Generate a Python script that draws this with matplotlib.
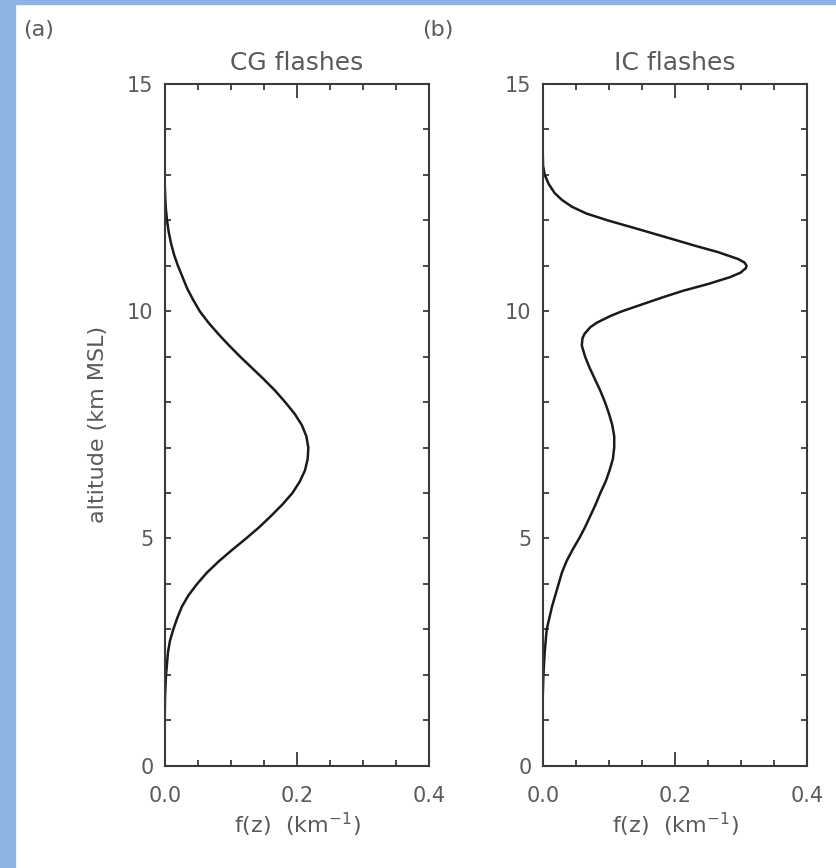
import matplotlib
matplotlib.use('Agg')
import matplotlib.pyplot as plt
from matplotlib.patches import Rectangle

# values
cg_alt=[0,1,1.5,2,2.5,2.75,3,3.25,3.5,3.75,4,4.25,4.5,4.75,5,5.25,5.5,5.75,6,6.25,6.5,6.75,7,7.25,7.5,7.75,8,8.25,8.5,8.75,9,9.25,9.5,9.75,10,10.25,10.5,10.75,11,11.25,11.5,11.75,12,12.25,12.5,12.75,13,15]
cg_f=[0,0,0.0005,0.002,0.005,0.008,0.013,0.019,0.026,0.036,0.049,0.064,0.082,0.102,0.123,0.143,0.161,0.178,0.193,0.204,0.212,0.216,0.217,0.214,0.207,0.196,0.182,0.167,0.150,0.132,0.114,0.097,0.081,0.066,0.053,0.043,0.034,0.027,0.020,0.014,0.0095,0.006,0.0035,0.0018,0.0008,0.0002,0,0]

ic_alt=[0,1.5,2,2.5,3,3.25,3.5,3.75,4,4.25,4.5,4.75,5,5.25,5.5,5.75,6,6.25,6.5,6.75,7,7.25,7.5,7.75,8,8.25,8.5,8.75,9,9.25,9.4,9.5,9.65,9.75,9.9,10,10.15,10.3,10.45,10.6,10.75,10.85,10.95,11,11.07,11.15,11.3,11.45,11.6,11.8,12,12.15,12.3,12.45,12.6,12.8,13,13.2,13.5,15]
ic_f=[0,0,0.001,0.003,0.006,0.010,0.014,0.019,0.024,0.029,0.036,0.045,0.055,0.064,0.072,0.080,0.087,0.095,0.101,0.106,0.108,0.108,0.105,0.100,0.094,0.087,0.079,0.071,0.064,0.059,0.060,0.063,0.072,0.082,0.103,0.120,0.150,0.180,0.212,0.250,0.283,0.299,0.307,0.308,0.305,0.295,0.265,0.228,0.193,0.146,0.098,0.066,0.044,0.029,0.018,0.009,0.003,0.0005,0,0]

panels=[('(a)','CG flashes',cg_alt,cg_f),('(b)','IC flashes',ic_alt,ic_f)]
xticks=[0.0,0.2,0.4]
yticks=[0,5,10,15]

txt='#5a5a5a'
spine='#3a3a3a'
plt.rcParams['font.family']='DejaVu Sans'

fig=plt.figure(figsize=(8.36,8.68),dpi=100)
fig.patches.append(Rectangle((0,0),15/836,1,transform=fig.transFigure,color='#8db3e2',zorder=-5))
fig.patches.append(Rectangle((0,1-4/868),1,4/868,transform=fig.transFigure,color='#8db3e2',zorder=-5))

lefts=[0.197,0.6492]
tagx=[0.028,0.505]
for i,(tag,title,alt,f) in enumerate(panels):
    ax=fig.add_axes([lefts[i],0.1179,0.3167,0.7853])
    ax.plot(f,alt,color='#1a1a1a',lw=1.8)
    ax.set_xlim(0,0.4)
    ax.set_ylim(0,15)
    ax.set_xticks(xticks)
    ax.set_xticklabels(['%.1f'%v for v in xticks])
    ax.set_xticks([0.05,0.1,0.15,0.25,0.3,0.35],minor=True)
    ax.set_yticks(yticks)
    ax.set_yticks([v for v in range(16) if v%5],minor=True)
    ax.tick_params(axis='both',which='both',direction='in',top=True,right=True,
                   color=spine,width=1.3,labelsize=15,labelcolor=txt)
    ax.tick_params(axis='x',which='major',length=10,pad=15)
    ax.tick_params(axis='x',which='minor',length=4.5)
    ax.tick_params(axis='y',which='both',length=4.5,pad=8)
    for s in ax.spines.values():
        s.set_color(spine)
        s.set_linewidth(1.5)
    ax.set_title(title,fontsize=18,color=txt,pad=10)
    ax.set_xlabel(r'f(z)  (km$^{-1}$)',fontsize=16,color=txt,labelpad=3)
    fig.text(tagx[i],0.965,tag,fontsize=16,color=txt,va='center')

fig.axes[0].set_ylabel('altitude (km MSL)',fontsize=16,color=txt,labelpad=14)

fig.savefig('out.png',dpi=100)
